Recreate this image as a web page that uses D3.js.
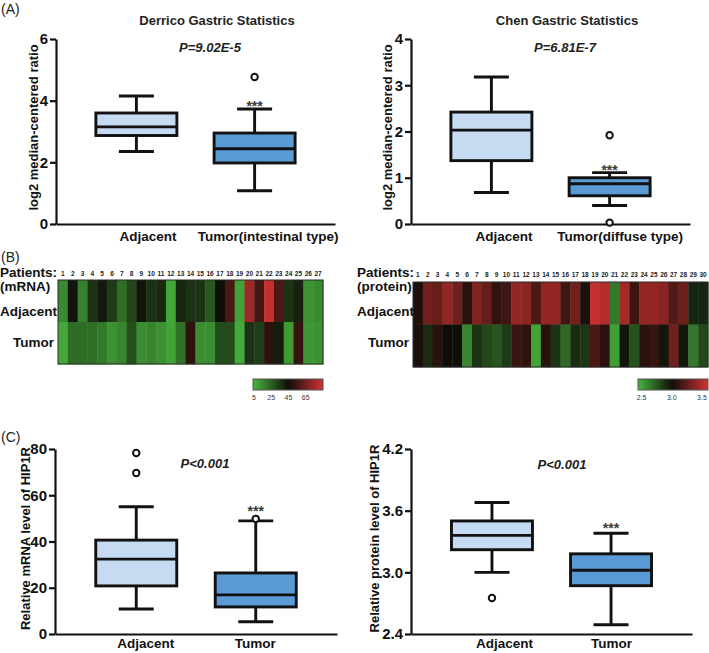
<!DOCTYPE html>
<html><head><meta charset="utf-8">
<script src="https://cdn.jsdelivr.net/npm/d3@7"></script>
<style>
body{margin:0;background:#fff}
svg{display:block;font-family:"Liberation Sans",Arial,Helvetica,sans-serif}
</style>
</head><body>
<svg id="chart" width="709" height="653"></svg>
<script>
// ---------- Panel A: Derrico (box stats: min, q1, median, q3, max) ----------
const derricoCategories = ["Adjacent", "Tumor(intestinal type)"];
const derricoAdjacent = [2.35, 2.87, 3.15, 3.6, 4.15];
const derricoTumor = [1.08, 1.98, 2.44, 2.95, 3.73];
const derricoAdjacentOutliers = [];
const derricoTumorOutliers = [4.77];
const derricoTicks = [0, 2, 4, 6];

// ---------- Panel A: Chen ----------
const chenCategories = ["Adjacent", "Tumor(diffuse type)"];
const chenAdjacent = [0.68, 1.37, 2.03, 2.42, 3.18];
const chenTumor = [0.40, 0.61, 0.87, 1.00, 1.11];
const chenAdjacentOutliers = [];
const chenTumorOutliers = [1.92, 0.03];
const chenTicks = [0, 1, 2, 3, 4];

// ---------- Panel B: heatmaps ----------
const mrnaPatients = ["1","2","3","4","5","6","7","8","9","10","11","12","13","14","15","16","17","18","19","20","21","22","23","24","25","26","27"];
const mrnaAdjacent = [15, 43, 17, 36, 42, 34, 22, 31, 43, 36, 38, 8, 39, 36, 36, 27, 45, 57, 9, 74, 56, 82, 57, 36, 40, 13, 15];
const mrnaTumor = [8, 22, 22, 22, 19, 13, 16, 29, 14, 16, 13, 9, 21, 51, 14, 14, 30, 30, 7, 36, 33, 51, 41, 11, 53, 12, 13];
const mrnaLegendTicks = [5, 25, 45, 65];

const proteinPatients = ["1","2","3","4","5","6","7","8","9","10","11","12","13","14","15","16","17","18","19","20","21","22","23","24","25","26","27","28","29","30"];
const proteinAdjacent = [3.05, 3.30, 3.27, 3.40, 3.30, 3.08, 3.35, 3.26, 3.10, 3.15, 3.40, 3.38, 3.18, 3.40, 3.40, 3.15, 3.30, 3.04, 3.55, 3.50, 2.65, 3.45, 3.14, 3.40, 3.40, 3.37, 3.20, 3.28, 2.92, 2.92];
const proteinTumor = [3.04, 2.90, 3.08, 3.00, 2.99, 2.60, 2.87, 2.80, 2.76, 2.85, 3.13, 3.10, 2.50, 3.08, 2.87, 2.70, 2.90, 2.86, 3.18, 3.08, 2.52, 2.97, 2.77, 3.08, 3.12, 2.97, 3.30, 2.97, 2.65, 2.80];
const proteinLegendTicks = [2.5, 3.0, 3.5];

// ---------- Panel C ----------
const mrnaBoxCategories = ["Adjacent", "Tumor"];
const mrnaBoxAdjacent = [10.8, 20.8, 32.4, 40.6, 55.0];
const mrnaBoxTumor = [5.3, 11.7, 16.9, 26.4, 48.9];
const mrnaBoxAdjacentOutliers = [78.3, 69.6];
const mrnaBoxTumorOutliers = [49.8];
const mrnaBoxTicks = [0, 20, 40, 60, 80];

const proteinBoxCategories = ["Adjacent", "Tumor"];
const proteinBoxAdjacent = [3.00, 3.22, 3.36, 3.50, 3.68];
const proteinBoxTumor = [2.49, 2.87, 3.02, 3.18, 3.38];
const proteinBoxAdjacentOutliers = [2.75];
const proteinBoxTumorOutliers = [];
const proteinBoxTicks = [2.4, 3.0, 3.6, 4.2];

const svg = d3.select("#chart");
const FILL_ADJ = "#c6daf1", FILL_TUM = "#5b9bd5";

function boxPanel(o) {
  const g = svg.append("g");
  const y = d3.scaleLinear().domain(o.domain).range([o.yBot, o.yTop]);
  const x = d3.scalePoint().domain(o.categories).range([o.x0, o.x1]).padding(0.68);

  const ya = g.append("g").attr("transform", `translate(${o.x0},0)`)
    .call(d3.axisLeft(y).tickValues(o.ticks).tickSize(6).tickSizeOuter(0).tickPadding(2).tickFormat(o.fmt));
  ya.select(".domain").attr("stroke", "#111").attr("stroke-width", 2.2);
  ya.selectAll(".tick line").attr("stroke", "#111").attr("stroke-width", 2.2);
  ya.selectAll(".tick text").attr("fill", "#111").attr("font-size", 15).attr("font-weight", "bold")
    .attr("font-family", "'Liberation Sans',Arial,sans-serif");

  const xa = g.append("g").attr("transform", `translate(0,${o.yBot})`)
    .call(d3.axisBottom(x).tickSize(0).tickSizeOuter(0).tickPadding(o.xPad));
  xa.select(".domain").attr("stroke", "#111").attr("stroke-width", 2.2);
  xa.selectAll(".tick text").attr("fill", "#111").attr("font-size", 13.5).attr("font-weight", "bold")
    .attr("font-family", "'Liberation Sans',Arial,sans-serif")
    .attr("dx", (d, i) => o.labelDx[i]);

  const boxW = 81, capW = 35;
  const series = [
    {c: o.categories[0], s: o.stats[0], out: o.outliers[0], fill: FILL_ADJ},
    {c: o.categories[1], s: o.stats[1], out: o.outliers[1], fill: FILL_TUM}
  ];
  series.forEach(d => {
    const cx = x(d.c);
    const [mn, q1, md, q3, mx] = d.s;
    const lw = 2.9;
    g.append("line").attr("x1", cx).attr("x2", cx).attr("y1", y(mx)).attr("y2", y(q3)).attr("stroke", "#111").attr("stroke-width", lw);
    g.append("line").attr("x1", cx).attr("x2", cx).attr("y1", y(q1)).attr("y2", y(mn)).attr("stroke", "#111").attr("stroke-width", lw);
    g.append("line").attr("x1", cx - capW / 2).attr("x2", cx + capW / 2).attr("y1", y(mx)).attr("y2", y(mx)).attr("stroke", "#111").attr("stroke-width", lw);
    g.append("line").attr("x1", cx - capW / 2).attr("x2", cx + capW / 2).attr("y1", y(mn)).attr("y2", y(mn)).attr("stroke", "#111").attr("stroke-width", lw);
    g.append("rect").attr("x", cx - boxW / 2).attr("width", boxW).attr("y", y(q3)).attr("height", y(q1) - y(q3))
      .attr("fill", d.fill).attr("stroke", "#111").attr("stroke-width", lw);
    g.append("line").attr("x1", cx - boxW / 2).attr("x2", cx + boxW / 2).attr("y1", y(md)).attr("y2", y(md)).attr("stroke", "#111").attr("stroke-width", lw);
    d.out.forEach(v => {
      g.append("circle").attr("cx", cx).attr("cy", y(v)).attr("r", 3.2).attr("fill", "#fff").attr("stroke", "#111").attr("stroke-width", 2);
    });
  });
  // significance stars above tumor whisker
  const tcx = x(o.categories[1]);
  g.append("text").attr("x", tcx).attr("y", y(o.stats[1][4]) - o.starGap).attr("text-anchor", "middle")
    .attr("font-size", 14).attr("font-weight", "bold").attr("fill", "#3a3a3a").text("***");

  if (o.title) {
    g.append("text").attr("x", o.titleX).attr("y", 25).attr("text-anchor", "middle")
      .attr("font-size", 13).attr("font-weight", "bold").attr("fill", "#222").text(o.title);
  }
  g.append("text").attr("x", o.pX).attr("y", o.pY).attr("text-anchor", "middle")
    .attr("font-size", 13).attr("font-weight", "bold").attr("font-style", "italic").attr("fill", "#222").text(o.p);
  g.append("text").attr("transform", `translate(${o.ylabX},${(o.yTop + o.yBot) / 2 + o.ylabDy}) rotate(-90)`)
    .attr("text-anchor", "middle").attr("dy", "0.35em")
    .attr("font-size", 13).attr("font-weight", "bold").attr("fill", "#111").text(o.ylabel);
}

boxPanel({x0: 56, x1: 335, yTop: 39, yBot: 224, domain: [0, 6], ticks: derricoTicks, fmt: d3.format("d"),
  categories: derricoCategories, labelDx: [11, 13], xPad: 7,
  stats: [derricoAdjacent, derricoTumor], outliers: [derricoAdjacentOutliers, derricoTumorOutliers],
  title: "Derrico Gastric Statistics", titleX: 217, p: "P=9.02E-5", pX: 210, pY: 52, starGap: -2,
  ylabel: "log2 median-centered ratio", ylabX: 33, ylabDy: -4});

boxPanel({x0: 411, x1: 690, yTop: 39, yBot: 224, domain: [0, 4], ticks: chenTicks, fmt: d3.format("d"),
  categories: chenCategories, labelDx: [12, 10], xPad: 7,
  stats: [chenAdjacent, chenTumor], outliers: [chenAdjacentOutliers, chenTumorOutliers],
  title: "Chen Gastric Statistics", titleX: 567, p: "P=6.81E-7", pX: 565, pY: 52, starGap: -2,
  ylabel: "log2 median-centered ratio", ylabX: 387, ylabDy: -4});

boxPanel({x0: 55, x1: 337, yTop: 449, yBot: 634, domain: [0, 80], ticks: mrnaBoxTicks, fmt: d3.format("d"),
  categories: mrnaBoxCategories, labelDx: [9, -1], xPad: 4,
  stats: [mrnaBoxAdjacent, mrnaBoxTumor], outliers: [mrnaBoxAdjacentOutliers, mrnaBoxTumorOutliers],
  title: null, p: "P<0.001", pX: 205, pY: 468, starGap: 5,
  ylabel: "Relative mRNA level of HIP1R", ylabX: 25, ylabDy: -3});

boxPanel({x0: 411, x1: 692, yTop: 449, yBot: 634, domain: [2.4, 4.2], ticks: proteinBoxTicks, fmt: d3.format(".1f"),
  categories: proteinBoxCategories, labelDx: [12, 0], xPad: 4,
  stats: [proteinBoxAdjacent, proteinBoxTumor], outliers: [proteinBoxAdjacentOutliers, proteinBoxTumorOutliers],
  title: null, p: "P<0.001", pX: 562, pY: 469, starGap: 0,
  ylabel: "Relative protein level of HIP1R", ylabX: 374, ylabDy: -3});

// ---------- Heatmaps ----------
const GREEN = "#47b33d", BLACK = "#0f0d08", RED = "#d33333";
function heatmap(o) {
  const g = svg.append("g");
  const color = d3.scaleLinear().domain(o.colorDomain).range([GREEN, BLACK, RED]).clamp(true);
  const x = d3.scaleBand().domain(o.patients).range([o.x0, o.x1]);
  const rows = ["Adjacent", "Tumor"];
  const y = d3.scaleBand().domain(rows).range([o.y0, o.y1]);
  const data = [];
  o.patients.forEach((p, i) => {
    data.push({p, r: "Adjacent", v: o.adj[i]});
    data.push({p, r: "Tumor", v: o.tum[i]});
  });
  g.selectAll("rect.cell").data(data).join("rect").attr("class", "cell")
    .attr("x", d => x(d.p)).attr("y", d => y(d.r))
    .attr("width", x.bandwidth() + 0.4).attr("height", y.bandwidth() + 0.4)
    .attr("fill", d => color(d.v));
  g.append("rect").attr("x", o.x0).attr("y", o.y0).attr("width", o.x1 - o.x0).attr("height", o.y1 - o.y0)
    .attr("fill", "none").attr("stroke", "#2a2a2a").attr("stroke-width", 1);
  g.selectAll("text.num").data(o.patients).join("text").attr("class", "num")
    .attr("x", d => x(d) + x.bandwidth() / 2).attr("y", o.numY).attr("text-anchor", "middle")
    .attr("font-size", 6.5).attr("font-weight", "bold").attr("fill", "#222").text(d => d);
  const lab = (t, xx, yy) => g.append("text").attr("x", xx).attr("y", yy)
    .attr("font-size", 13.5).attr("font-weight", "bold").attr("fill", "#111").text(t);
  lab("Patients:", o.labX, 277);
  lab(o.sub, o.labX, 291);
  lab("Adjacent", o.labX, 316);
  lab("Tumor", o.labX + o.tumorDx, 347);

  // legend
  const gid = "grad" + o.id;
  const grad = svg.append("defs").append("linearGradient").attr("id", gid);
  const lx = d3.scaleLinear().domain([o.legendDomain[0], o.legendDomain[1]]).range([o.lx0, o.lx1]);
  d3.range(0, 1.0001, 0.1).forEach(t => {
    const v = o.legendDomain[0] + t * (o.legendDomain[1] - o.legendDomain[0]);
    grad.append("stop").attr("offset", (t * 100) + "%").attr("stop-color", color(v));
  });
  g.append("rect").attr("x", o.lx0).attr("y", o.ly).attr("width", o.lx1 - o.lx0).attr("height", 11)
    .attr("fill", `url(#${gid})`).attr("stroke", "#555").attr("stroke-width", 1);
  g.selectAll("text.lt").data(o.legendTicks).join("text").attr("class", "lt")
    .attr("x", d => lx(d)).attr("y", o.ly + 21).attr("text-anchor", "middle")
    .attr("font-size", 7).attr("fill", "#333").text(o.legendFmt);
}

heatmap({id: "m", patients: mrnaPatients, adj: mrnaAdjacent, tum: mrnaTumor, colorDomain: [5, 45, 85],
  x0: 58, x1: 323, y0: 280, y1: 364, numY: 276, labX: 0, tumorDx: 13, sub: "(mRNA)",
  legendDomain: [4, 85], lx0: 253, lx1: 323, ly: 379, legendTicks: mrnaLegendTicks, legendFmt: d3.format("d")});

heatmap({id: "p", patients: proteinPatients, adj: proteinAdjacent, tum: proteinTumor, colorDomain: [2.45, 3.0, 3.6],
  x0: 413, x1: 708, y0: 282, y1: 367, numY: 277, labX: 357, tumorDx: 11, sub: "(protein)",
  legendDomain: [2.44, 3.6], lx0: 638, lx1: 708, ly: 379, legendTicks: proteinLegendTicks, legendFmt: d3.format(".1f")});

// panel letters
[["(A)", 14], ["(B)", 262], ["(C)", 442]].forEach(([t, yy]) => {
  svg.append("text").attr("x", 1).attr("y", yy).attr("font-size", 14).attr("fill", "#222").text(t);
});
</script>
</body></html>
